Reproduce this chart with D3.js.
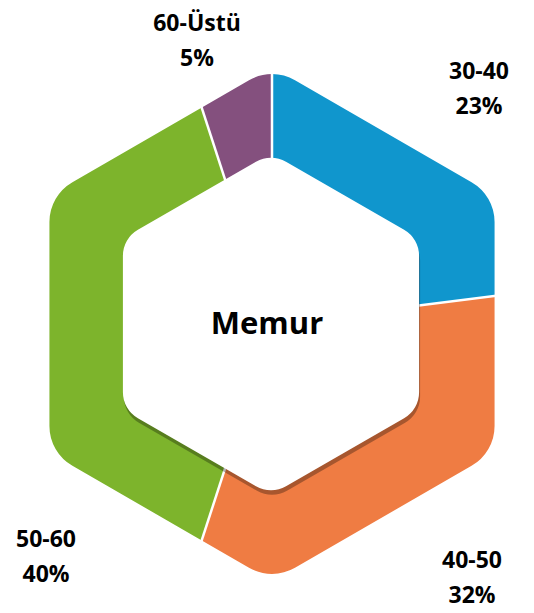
<!DOCTYPE html>
<meta charset="utf-8">
<style>
  body { margin: 0; background: #fff; }
  text { font-family: "Open Sans", "DejaVu Sans", sans-serif; font-weight: bold; fill: #000; }
</style>
<script src="https://d3js.org/d3.v7.min.js"></script>

<div id="main"></div>

<script>

var width = 534
var height = 613

// chart data
var groups = ["30-40", "40-50", "50-60", "60-Üstü"]
var shares = [23, 32, 40, 5]
var colors = ["#1096cd", "#ef7c43", "#7db42c", "#84507e"]
var title = "Memur"

// where Excel put the labels (centre of the two line block)
var labelAt = [[479, 87], [472, 576], [46, 555], [197, 39]]

var cx = 272, cy = 324
var outerR = 257, outerRound = 46
var innerR = 171, innerRound = 30

var svg = d3.select("#main")
  .append("svg")
    .attr("width", width)
    .attr("height", height)

// pointy-top hexagon with rounded corners, built with d3.path
function roundedHex(R, r, dx, dy) {
  var pts = []
  for (var i = 0; i < 6; i++) {
    var a = -Math.PI / 2 + i * Math.PI / 3
    pts.push([dx + R * Math.cos(a), dy + R * Math.sin(a)])
  }
  var p = d3.path()
  var m0 = [(pts[5][0] + pts[0][0]) / 2, (pts[5][1] + pts[0][1]) / 2]
  p.moveTo(m0[0], m0[1])
  for (var i = 0; i < 6; i++) {
    var v = pts[i], n = pts[(i + 1) % 6]
    var mid = [(v[0] + n[0]) / 2, (v[1] + n[1]) / 2]
    p.arcTo(v[0], v[1], mid[0], mid[1], r)
  }
  p.closePath()
  return p.toString()
}

var ringPath = roundedHex(outerR, outerRound, 0, 0) + roundedHex(innerR - 2, innerRound, 0, 0)

var pie = d3.pie().sort(null).value(d => d)
var slices = pie(shares)

var wedge = d3.arc().innerRadius(0).outerRadius(600)

var defs = svg.append("defs")
defs.selectAll("clipPath")
  .data(slices)
  .enter()
  .append("clipPath")
    .attr("id", (d, i) => "wedge" + i)
  .append("path")
    .attr("d", wedge)

var g = svg.append("g")
  .attr("transform", "translate(" + cx + "," + cy + ")")

g.selectAll("path.slice")
  .data(slices)
  .enter()
  .append("path")
    .attr("class", "slice")
    .attr("d", ringPath)
    .attr("fill-rule", "evenodd")
    .attr("clip-path", (d, i) => "url(#wedge" + i + ")")
    .style("fill", (d, i) => colors[i])

// white gaps between the slices
g.selectAll("line.gap")
  .data(slices)
  .enter()
  .append("line")
    .attr("class", "gap")
    .attr("x1", 0).attr("y1", 0)
    .attr("x2", d => 320 * Math.sin(d.startAngle))
    .attr("y2", d => -320 * Math.cos(d.startAngle))
    .style("stroke", "#fff")
    .style("stroke-width", 2.5)

// shadow of the hole, then the hole itself
g.append("path")
  .attr("d", roundedHex(innerR, innerRound, 0, 4.5))
  .style("fill", "#000")
  .style("fill-opacity", 0.3)

g.append("path")
  .attr("d", roundedHex(innerR, innerRound, -1, 0))
  .style("fill", "#fff")

svg.append("text")
  .attr("x", cx - 5)
  .attr("y", 334)
  .attr("text-anchor", "middle")
  .style("font-size", "31px")
  .text(title)

var labels = svg.selectAll("g.label")
  .data(slices)
  .enter()
  .append("g")
    .attr("class", "label")
    .attr("transform", (d, i) => "translate(" + labelAt[i][0] + "," + labelAt[i][1] + ")")

labels.append("text")
  .attr("text-anchor", "middle")
  .attr("y", -8)
  .style("font-size", "23px")
  .text((d, i) => groups[i])

labels.append("text")
  .attr("text-anchor", "middle")
  .attr("y", 27)
  .style("font-size", "23px")
  .text(d => Math.round(d.value) + "%")

</script>
